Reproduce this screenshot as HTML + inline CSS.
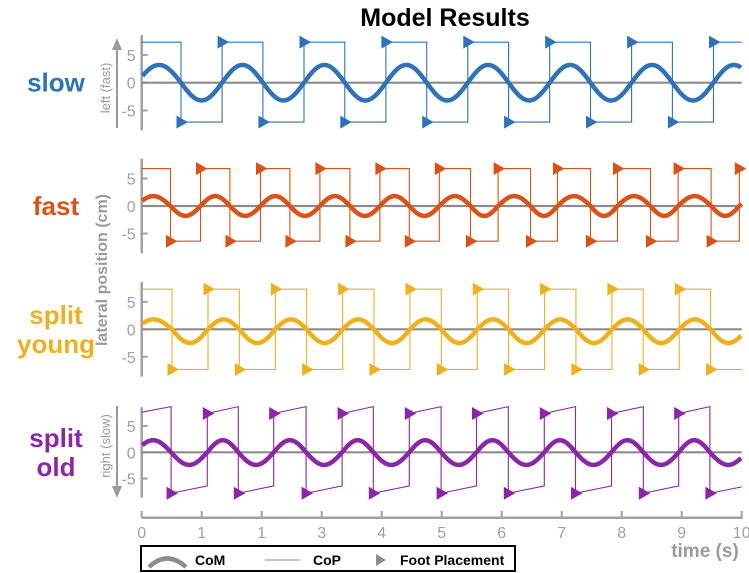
<!DOCTYPE html>
<html><head><meta charset="utf-8"><style>
body{margin:0;background:#fff;width:749px;height:573px;overflow:hidden}
svg{display:block;font-family:"Liberation Sans",sans-serif}
</style></head><body>
<svg id="chart" width="749" height="573" viewBox="0 0 749 573">
<text x="445" y="26" text-anchor="middle" font-size="25" font-weight="bold" fill="#000">Model Results</text>
<g id="panels"></g>
<g id="xaxis"></g>
<text x="705" y="557" text-anchor="middle" font-size="19" font-weight="bold" fill="#9a9a9a">time (s)</text>
<text transform="translate(107,270) rotate(-90)" text-anchor="middle" font-size="16" font-weight="bold" fill="#9a9a9a">lateral position (cm)</text>
<text transform="translate(110,88) rotate(-90)" text-anchor="middle" font-size="13" fill="#9a9a9a">left (fast)</text>
<line x1="117" y1="128" x2="117" y2="48" stroke="#9a9a9a" stroke-width="2"/>
<polygon points="117,38 112,50 122,50" fill="#9a9a9a"/>
<text transform="translate(110,446) rotate(-90)" text-anchor="middle" font-size="13" fill="#9a9a9a">right (slow)</text>
<line x1="117" y1="406" x2="117" y2="487" stroke="#9a9a9a" stroke-width="2"/>
<polygon points="117,498 112,486 122,486" fill="#9a9a9a"/>
<g>
<rect x="141" y="546" width="374" height="25" fill="#fff" stroke="#000" stroke-width="2"/>
<path d="M149,567 Q167,550 186,567" fill="none" stroke="#8c8c8c" stroke-width="4.5"/>
<text x="195" y="565" font-size="14" font-weight="bold">CoM</text>
<line x1="265" y1="560" x2="300" y2="560" stroke="#8c8c8c" stroke-width="1"/>
<text x="313" y="565" font-size="14" font-weight="bold">CoP</text>
<polygon points="376,554 386,560 376,566" fill="#8c8c8c"/>
<text x="400" y="565" font-size="14" font-weight="bold">Foot Placement</text>
</g>
</svg>
<script>
// ---- data ----
const xTickValues = [0,1,2,3,4,5,6,7,8,9,10];
const xTickLabels = ["0","1","1","3","4","5","6","7","8","9","10"];
const yTickValues = [5,0,-5];
const panelNames = ["slow","fast","split young","split old"];
const panelColors = ["#2f72b8","#d95319","#edb120","#8a27a6"];
const slowSwitchTimes = [-0.077,0.655,1.34,2.02,2.705,3.385,4.07,4.75,5.435,6.115,6.8,7.48,8.165,8.845,9.53,10.21];
const fastSwitchTimes = [-0.094,0.48,0.98,1.47,1.98,2.47,2.97,3.47,3.97,4.46,4.96,5.48,5.94,6.48,6.93,7.48,7.93,8.48,8.94,9.49,9.96,10.46];
const youngSwitchTimes = [-0.11,0.505,1.105,1.627,2.227,2.749,3.349,3.871,4.471,4.993,5.593,6.115,6.715,7.237,7.837,8.359,8.959,9.481,10.08];
const oldSwitchTimes = [-0.11,0.49,1.093,1.61,2.2,2.74,3.34,3.86,4.46,4.99,5.58,6.11,6.71,7.23,7.83,8.36,8.95,9.47,10.08];
const copTopStart = [7.3,6.8,7.3,7.4];
const copTopEnd = [7.3,6.8,7.3,8.7];
const copBottomStart = [-7.1,-6.4,-7.3,-7.8];
const copBottomEnd = [-7.1,-6.4,-7.3,-6.4];
const comPeak = [3.2,1.8,1.8,2.3];
const comTrough = [-3.2,-1.8,-2.5,-2.4];
// ---- layout ----
const switchSets = [slowSwitchTimes,fastSwitchTimes,youngSwitchTimes,oldSwitchTimes];
const zeroY = [82.7,206,329.3,452.3];
const pxPerUnit = [5.55,5.5,5.5,5.25];
const X0 = 141.7, PXS = 60;
const NS = "http://www.w3.org/2000/svg";
function xs(t){return X0 + t*PXS;}
function mk(tag, attrs, parent){const e=document.createElementNS(NS,tag);for(const k in attrs)e.setAttribute(k,attrs[k]);parent.appendChild(e);return e;}
const panelsG = document.getElementById('panels');
const labelLines = [["slow"],["fast"],["split","young"],["split","old"]];
for(let p=0;p<4;p++){
  const ys = v => zeroY[p] - v*pxPerUnit[p];
  const g = mk('g',{},panelsG);
  
  
  const lines = labelLines[p];
  lines.forEach((s,i)=>{
    const t = mk('text',{x:56,y:zeroY[p]+9 + (i - (lines.length-1)/2)*29,'text-anchor':'middle','font-size':26,'font-weight':'bold',fill:panelColors[p]},g);
    t.textContent = s;
    
    
  });
  const ax = mk('line',{x1:X0,x2:X0,y1:ys(8.6),y2:ys(-8.6),stroke:'#a0a0a0','stroke-width':2.5},g);
  
  
  yTickValues.forEach(v=>{
    mk('line',{x1:X0,x2:X0+6,y1:ys(v),y2:ys(v),stroke:'#a0a0a0','stroke-width':2},g);
    const t = mk('text',{x:X0-6,y:ys(v)+6,'text-anchor':'end','font-size':16,fill:'#a0a0a0'},g);
    t.textContent = v<0 ? '-'+(-v) : String(v);
    
    
  });
  const zl = mk('line',{x1:X0,x2:xs(10),y1:ys(0),y2:ys(0),stroke:'#8c8c8c','stroke-width':2.2},g);
  
  
  const sw = switchSets[p];
  let d = '';
  for(let i=0;i<sw.length-1;i++){
    const top = i%2===0;
    const a = sw[i], b = sw[i+1];
    const s0 = top?copTopStart[p]:copBottomStart[p], s1 = top?copTopEnd[p]:copBottomEnd[p];
    const ta = Math.max(a,0), tb = Math.min(b,10);
    const va = s0 + (s1-s0)*(ta-a)/(b-a), vb = s0 + (s1-s0)*(tb-a)/(b-a);
    d += (i===0?'M':'L') + xs(ta).toFixed(2)+','+ys(va).toFixed(2)+' L'+xs(tb).toFixed(2)+','+ys(vb).toFixed(2)+' ';
  }
  const cop = mk('path',{d:d,fill:'none',stroke:panelColors[p],'stroke-width':1.1},g);
  
  
  let dc = '';
  let first = true;
  for(let i=0;i<sw.length-1;i++){
    const amp = i%2===0?comPeak[p]:comTrough[p];
    const a = sw[i], b = sw[i+1];
    for(let k=0;k<=40;k++){
      const t = a + (b-a)*k/40;
      if(t<0||t>10) continue;
      const v = amp*Math.sin(Math.PI*(t-a)/(b-a));
      dc += (first?'M':'L')+xs(t).toFixed(2)+','+ys(v).toFixed(2)+' ';
      first=false;
    }
  }
  const com = mk('path',{d:dc,fill:'none',stroke:panelColors[p],'stroke-width':4.5,'stroke-linejoin':'round'},g);
  
  
  for(let i=1;i<sw.length-1;i++){
    const t = sw[i];
    if(t<0||t>10) continue;
    const top = i%2===0;
    const v = top?copTopStart[p]:copBottomStart[p];
    const cx = xs(t), cy = ys(v);
    const m = mk('polygon',{points:(cx-4.5)+','+(cy-6.5)+' '+(cx+7)+','+cy+' '+(cx-4.5)+','+(cy+6.5),fill:panelColors[p]},g);
    
    
  }
}
const xg = document.getElementById('xaxis');
mk('line',{x1:X0,x2:xs(10)+1,y1:517.7,y2:517.7,stroke:'#a0a0a0','stroke-width':2.5},xg);
xTickValues.forEach((v,i)=>{
  mk('line',{x1:xs(v),x2:xs(v),y1:517.7,y2:511,stroke:'#a0a0a0','stroke-width':2},xg);
  const t = mk('text',{x:xs(v),y:538,'text-anchor':'middle','font-size':16,fill:'#a0a0a0'},xg);
  t.textContent = xTickLabels[i];
  
  
});
</script>
</body></html>
